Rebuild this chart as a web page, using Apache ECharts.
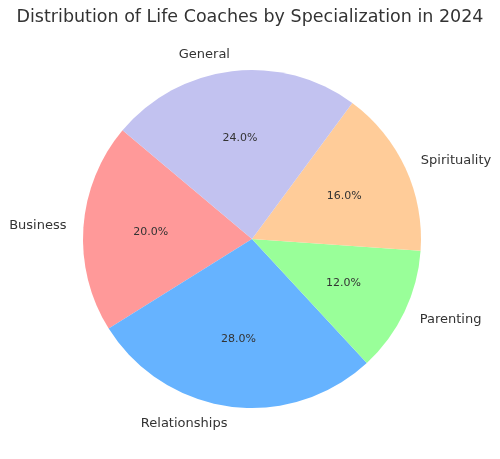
<!DOCTYPE html>
<html>
<head>
<meta charset="utf-8">
<script src="https://cdn.jsdelivr.net/npm/echarts@6/dist/echarts.min.js"></script>
<style>
  html, body { margin: 0; padding: 0; background: #fff; }
  #chart { width: 500px; height: 459px; }
</style>
</head>
<body>
<div id="chart"></div>
<script>
const specializations = ['Business', 'Relationships', 'Parenting', 'Spirituality', 'General'];
const shares = [20, 28, 12, 16, 24];
const sliceColors = ['#ff9999', '#66b3ff', '#99ff99', '#ffcc99', '#c2c2f0'];

const chart = echarts.init(document.getElementById('chart'));

const R = 169;
const font = 'DejaVu Sans';

const sliceData = specializations.map((name, i) => ({
  name,
  value: shares[i],
  itemStyle: { color: sliceColors[i] }
}));

const option = {
  animation: false,
  title: {
    text: 'Distribution of Life Coaches by Specialization in 2024',
    left: 'center',
    top: 3,
    textStyle: { fontFamily: font, fontSize: 17.5, fontWeight: 'normal', color: '#333333' }
  },
  series: [
    {
      // the slices and their names
      type: 'pie',
      center: [252, 239],
      radius: [0, R],
      startAngle: 140,
      clockwise: false,
      avoidLabelOverlap: false,
      silent: true,
      data: sliceData,
      label: {
        position: 'outside',
        formatter: '{b}',
        fontFamily: font,
        fontSize: 13,
        color: '#333333',
        distanceToLabelLine: 0
      },
      labelLine: { show: false, length: 17, length2: 0 }
    },
    {
      // invisible ring used only to place the percentages at 0.6 r
      type: 'pie',
      center: [252, 239],
      radius: [0, 197],
      startAngle: 140,
      clockwise: false,
      avoidLabelOverlap: false,
      silent: true,
      data: specializations.map((name, i) => ({ name, value: shares[i] })),
      itemStyle: { color: 'rgba(0,0,0,0)' },
      label: {
        position: 'inside',
        formatter: p => p.value.toFixed(1) + '%',
        fontFamily: font,
        fontSize: 11,
        color: '#333333'
      },
      labelLine: { show: false }
    }
  ]
};

chart.setOption(option);
</script>
</body>
</html>
